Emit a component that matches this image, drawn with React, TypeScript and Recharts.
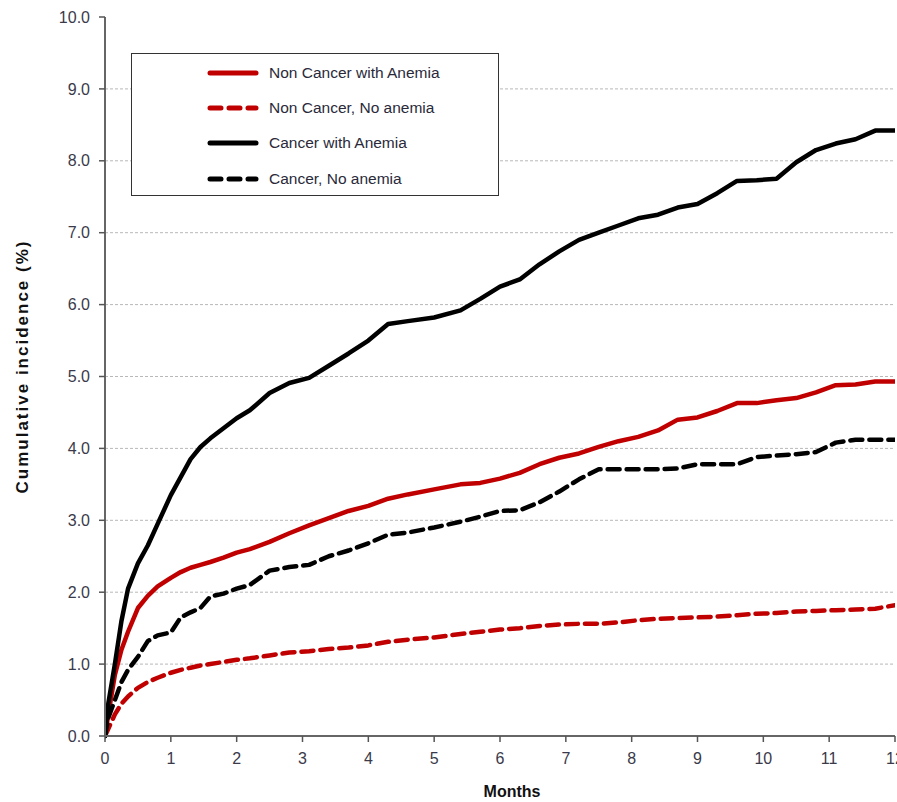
import {
  LineChart,
  Line,
  XAxis,
  YAxis,
  CartesianGrid,
  Legend,
  Label,
} from "recharts";

// months since start (x values shared by all curves)
const months = [
  0, 0.05, 0.15, 0.25, 0.35, 0.5, 0.65, 0.8, 1.0, 1.15, 1.3, 1.45, 1.6, 1.8, 2.0,
  2.2, 2.5, 2.8, 3.1, 3.4, 3.7, 4.0, 4.3, 4.6, 5.0, 5.4, 5.7, 6.0, 6.3, 6.6, 6.9,
  7.2, 7.5, 7.8, 8.1, 8.4, 8.7, 9.0, 9.3, 9.6, 9.9, 10.2, 10.5, 10.8, 11.1, 11.4,
  11.7, 12.0,
];

// cumulative incidence (%)
const nonCancerAnemia = [
  0, 0.3, 0.85, 1.2, 1.45, 1.78, 1.95, 2.08, 2.2, 2.28, 2.34, 2.38, 2.42, 2.48,
  2.55, 2.6, 2.7, 2.82, 2.93, 3.03, 3.13, 3.2, 3.3, 3.36, 3.43, 3.5, 3.52, 3.58,
  3.66, 3.78, 3.87, 3.93, 4.02, 4.1, 4.16, 4.25, 4.4, 4.43, 4.52, 4.63, 4.63,
  4.67, 4.7, 4.78, 4.88, 4.89, 4.93, 4.93,
];
const nonCancerNoAnemia = [
  0, 0.1, 0.3, 0.45, 0.55, 0.67, 0.75, 0.81, 0.88, 0.92, 0.95, 0.98, 1.0, 1.03,
  1.06, 1.08, 1.12, 1.16, 1.18, 1.21, 1.23, 1.26, 1.31, 1.34, 1.37, 1.42, 1.45,
  1.48, 1.5, 1.53, 1.55, 1.56, 1.56, 1.58, 1.61, 1.63, 1.64, 1.65, 1.66, 1.68,
  1.7, 1.71, 1.73, 1.74, 1.75, 1.76, 1.77, 1.82,
];
const cancerAnemia = [
  0, 0.45, 1.0, 1.6, 2.05, 2.4, 2.65, 2.95, 3.35, 3.6, 3.85, 4.02, 4.14, 4.28,
  4.42, 4.53, 4.77, 4.91, 4.98, 5.15, 5.32, 5.5, 5.73, 5.77, 5.82, 5.92, 6.08,
  6.25, 6.35, 6.56, 6.74, 6.9, 7.0, 7.1, 7.2, 7.25, 7.35, 7.4, 7.55, 7.72, 7.73,
  7.75, 7.98, 8.15, 8.24, 8.3, 8.42, 8.42,
];
const cancerNoAnemia = [
  0, 0.25, 0.5, 0.75, 0.92, 1.1, 1.32, 1.4, 1.44, 1.65, 1.72, 1.78, 1.94, 1.98,
  2.05, 2.1, 2.3, 2.35, 2.38, 2.5, 2.58, 2.68, 2.8, 2.83, 2.9, 2.98, 3.05, 3.13,
  3.14, 3.25, 3.4, 3.57, 3.71, 3.71, 3.71, 3.71, 3.72, 3.78, 3.78, 3.78, 3.88,
  3.9, 3.92, 3.95, 4.08, 4.12, 4.12, 4.12,
];

const xTicks = [0, 1, 2, 3, 4, 5, 6, 7, 8, 9, 10, 11, 12];
const yTicks = [0, 1, 2, 3, 4, 5, 6, 7, 8, 9, 10];
const gridValues = [1, 2, 3, 4, 5, 6, 7, 8, 9];

const series = [
  { key: "nca", name: "Non Cancer with Anemia", color: "#c00000", dashed: false },
  { key: "ncn", name: "Non Cancer, No anemia", color: "#c00000", dashed: true },
  { key: "ca", name: "Cancer with Anemia", color: "#000000", dashed: false },
  { key: "cn", name: "Cancer, No anemia", color: "#000000", dashed: true },
];

const data = months.map((m, i) => ({
  m,
  nca: nonCancerAnemia[i],
  ncn: nonCancerNoAnemia[i],
  ca: cancerAnemia[i],
  cn: cancerNoAnemia[i],
}));

const FONT = "'Liberation Sans', Arial, sans-serif";
const tickStyle = { fill: "#3a3a4a", fontSize: 16, fontFamily: FONT };

const LegendBox = () => (
  <div
    style={{
      width: 368,
      height: 143,
      border: "1.5px solid #333",
      background: "#fff",
      boxSizing: "border-box",
      paddingTop: 1,
    }}
  >
    {series.map((s) => (
      <div
        key={s.key}
        style={{ display: "flex", alignItems: "center", height: 35.3 }}
      >
        <svg
          width={54}
          height={10}
          style={{ marginLeft: 74, flexShrink: 0, display: "block" }}
        >
          <line
            x1={4}
            y1={5}
            x2={50}
            y2={5}
            stroke={s.color}
            strokeWidth={5}
            strokeLinecap="round"
            strokeDasharray={s.dashed ? "11 8" : undefined}
          />
        </svg>
        <span
          style={{
            fontFamily: FONT,
            fontSize: 15.5,
            color: "#2a2a3a",
            marginLeft: 9,
            whiteSpace: "nowrap",
          }}
        >
          {s.name}
        </span>
      </div>
    ))}
  </div>
);

export default function App() {
  return (
    <div style={{ position: "absolute", left: 0, top: 0, background: "#fff" }}>
      <LineChart
        width={897}
        height={802}
        data={data}
        margin={{ top: 17, right: 2, bottom: 0, left: 0 }}
      >
        <CartesianGrid
          vertical={false}
          horizontalValues={gridValues}
          stroke="#b8b8b8"
          strokeDasharray="3 2"
        />
        <XAxis
          dataKey="m"
          type="number"
          domain={[0, 12]}
          ticks={xTicks}
          interval={0}
          height={66}
          tick={tickStyle}
          tickSize={6}
          tickMargin={11}
          axisLine={{ stroke: "#666", strokeWidth: 2 }}
          tickLine={{ stroke: "#555", strokeWidth: 1.5 }}
          allowDataOverflow
        >
          <Label
            value="Months"
            position="insideBottom"
            offset={5}
            dx={12}
            style={{
              fontFamily: FONT,
              fontSize: 16,
              fontWeight: "bold",
              fill: "#111",
            }}
          />
        </XAxis>
        <YAxis
          type="number"
          domain={[0, 10]}
          ticks={yTicks}
          interval={0}
          width={105}
          tickFormatter={(v: number) => v.toFixed(1)}
          tick={tickStyle}
          tickSize={6}
          tickMargin={9}
          axisLine={{ stroke: "#666", strokeWidth: 2 }}
          tickLine={{ stroke: "#555", strokeWidth: 1.5 }}
        >
          <Label
            value="Cumulative  incidence (%)"
            angle={-90}
            position="insideLeft"
            offset={22}
            dy={-10}
            style={{
              textAnchor: "middle",
              fontFamily: FONT,
              fontSize: 17,
              fontWeight: "bold",
              letterSpacing: 2,
              fill: "#111",
            }}
          />
        </YAxis>
        <Legend
          content={<LegendBox />}
          layout="horizontal"
          verticalAlign="middle"
          align="center"
          wrapperStyle={{ left: 131, top: 53, width: 368 }}
        />
        {series.map((s) => (
          <Line
            key={s.key}
            dataKey={s.key}
            name={s.name}
            type="linear"
            stroke={s.color}
            strokeWidth={4.5}
            strokeDasharray={s.dashed ? "12 7" : undefined}
            strokeLinecap="round"
            strokeLinejoin="round"
            dot={false}
            activeDot={false}
            isAnimationActive={false}
          />
        ))}
      </LineChart>
    </div>
  );
}
